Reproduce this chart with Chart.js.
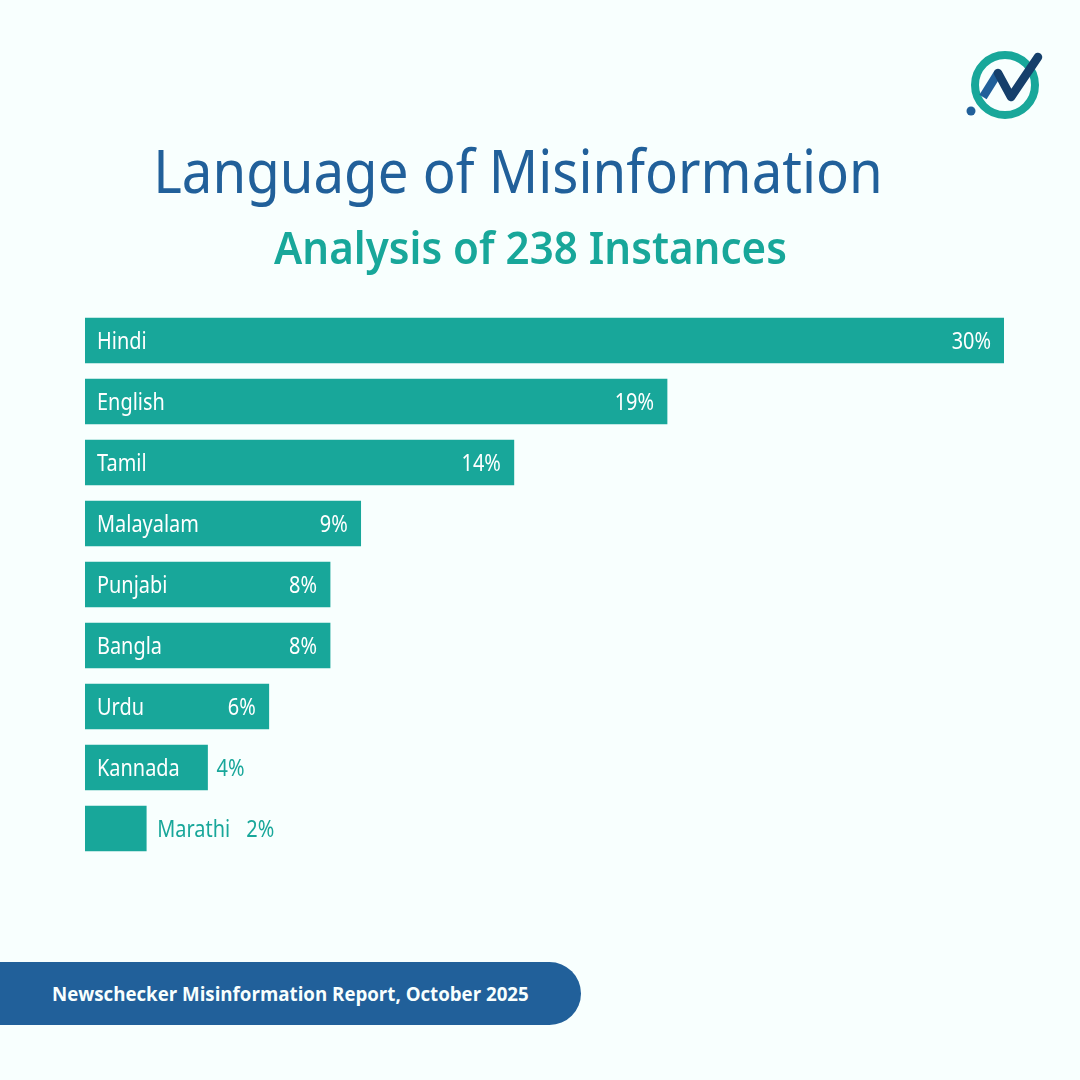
<!DOCTYPE html>
<html><head><meta charset="utf-8">
<style>
html,body{margin:0;padding:0;background:#f8fffe;width:1080px;height:1080px;overflow:hidden}
#wrap{position:absolute;left:0;top:0;width:1080px;height:1080px}
canvas{position:absolute;left:0;top:0}
.t{position:absolute;white-space:nowrap}
#title{left:0;top:128px;width:1036px;text-align:center;font-size:61px;color:#21609a;font-family:"Noto Sans",sans-serif;transform:scaleX(.895);transform-origin:518px 0}
#sub{left:0;top:216px;width:1061px;text-align:center;font-size:45px;font-weight:600;color:#18a79a;font-family:"Noto Sans",sans-serif;transform:scaleX(.935);transform-origin:530.5px 0}
#pill{position:absolute;left:0;top:962px;width:581px;height:63px;background:#21609a;border-radius:0 32px 32px 0}
#foot{left:52px;top:981px;font-size:18.7px;font-weight:700;color:#f8fffe;font-family:"Open Sans",sans-serif;transform-origin:0 0}
#logo{position:absolute;left:960px;top:45px}
</style></head><body>
<div id="wrap">
<canvas id="c" width="1080" height="1080"></canvas>
<div class="t" id="title">Language of Misinformation</div>
<div class="t" id="sub">Analysis of 238 Instances</div>
<div id="pill"></div>
<div class="t" id="foot">Newschecker Misinformation Report, October 2025</div>
<svg id="logo" width="90" height="80" viewBox="0 0 90 80">
<circle cx="45" cy="40" r="30" fill="none" stroke="#18a79a" stroke-width="8"/>
<path d="M23 52 L38 28" stroke="#21609a" stroke-width="8.5" fill="none"/>
<path d="M38 28 L51 52 L78 12" stroke="#153f6b" stroke-width="8.5" fill="none" stroke-linecap="round" stroke-linejoin="round"/>
<circle cx="11" cy="66" r="4.5" fill="#21609a"/>
</svg>
</div>
<script src="https://cdn.jsdelivr.net/npm/chart.js@4"></script>
<script>
const categories=["Hindi","English","Tamil","Malayalam","Punjabi","Bangla","Urdu","Kannada","Marathi"];
const barValues=[30,19,14,9,8,8,6,4,2];
const valueLabels=["30%","19%","14%","9%","8%","8%","6%","4%","2%"];
const outsideName=[false,false,false,false,false,false,false,false,true];
const outsideValue=[false,false,false,false,false,false,false,true,true];
const teal="#18a79a";
const squeeze=0.83;
function put(ctx,text,x,y,align){
  ctx.save();ctx.translate(x,y);ctx.scale(squeeze,1);
  ctx.textAlign=align;ctx.fillText(text,0,0);ctx.restore();
}
const labelPlugin={id:"barText",afterDatasetsDraw(chart){
  const ctx=chart.ctx,meta=chart.getDatasetMeta(0);
  ctx.save();ctx.textBaseline="middle";ctx.font='24px "Noto Sans",sans-serif';
  meta.data.forEach((b,i)=>{
    const left=chart.scales.x.getPixelForValue(0),y=b.y+2;
    ctx.fillStyle=outsideName[i]?teal:"#fff";
    put(ctx,categories[i],outsideName[i]?b.x+11:left+12,y,"left");
    ctx.fillStyle=outsideValue[i]?teal:"#fff";
    if(outsideValue[i]) put(ctx,valueLabels[i],outsideName[i]?b.x+100:b.x+9,y,"left");
    else put(ctx,valueLabels[i],b.x-13,y,"right");
  });
  ctx.restore();
}};
new Chart(document.getElementById("c"),{
  type:"bar",
  data:{labels:categories,datasets:[{data:barValues,backgroundColor:teal,borderWidth:0,barThickness:45}]},
  options:{indexAxis:"y",responsive:false,animation:false,devicePixelRatio:1,
    layout:{padding:{left:85,right:76,top:310,bottom:221}},
    plugins:{legend:{display:false},tooltip:{enabled:false}},
    scales:{
      x:{display:false,min:0,max:30,grid:{display:false}},
      y:{display:false,grid:{display:false}}
    }
  },
  plugins:[labelPlugin]
});
</script>
</body></html>
